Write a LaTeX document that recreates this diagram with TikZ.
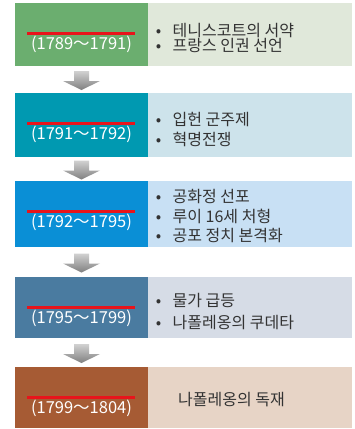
\documentclass[tikz,border=0pt]{standalone}
\usepackage{fontspec}
\setmainfont{Noto Sans CJK KR}
\definecolor{gA}{HTML}{6BAE6F}\definecolor{gB}{HTML}{E0E8DA}
\definecolor{tA}{HTML}{0099B1}\definecolor{tB}{HTML}{CDE3EB}
\definecolor{bA}{HTML}{0A8FD6}\definecolor{bB}{HTML}{C8E0F4}
\definecolor{sA}{HTML}{4A7BA0}\definecolor{sB}{HTML}{D6DCE6}
\definecolor{rA}{HTML}{A65B34}\definecolor{rB}{HTML}{E7D4C6}
\definecolor{redline}{HTML}{E8141B}
\definecolor{txt}{HTML}{333333}
\begin{document}
\begin{tikzpicture}[x=1pt,y=-1pt,
  leftbox/.style={inner sep=0pt,outer sep=0pt,minimum width=133pt,anchor=north west},
  rightbox/.style={inner sep=0pt,outer sep=0pt,minimum width=204pt,anchor=north west},
  yeartxt/.style={inner sep=0pt,anchor=base,text=white,font=\fontsize{16.5}{16.5}\selectfont},
  itemtxt/.style={inner sep=0pt,anchor=base west,text=txt,font=\fontsize{16}{16}\selectfont},
  redbar/.style={draw=redline,line width=3pt},
  arrowshade/.style={top color=black!18,bottom color=black!50}]
\useasboundingbox (0,0) rectangle (355,429);
% rows
\node[leftbox,fill=gA,minimum height=63pt] (L1) at (15,3) {};
\node[rightbox,fill=gB,minimum height=63pt] (R1) at (148,3) {};
\node[leftbox,fill=tA,minimum height=64pt] (L2) at (15,93) {};
\node[rightbox,fill=tB,minimum height=64pt] (R2) at (148,93) {};
\node[leftbox,fill=bA,minimum height=66pt] (L3) at (15,181) {};
\node[rightbox,fill=bB,minimum height=66pt] (R3) at (148,181) {};
\node[leftbox,fill=sA,minimum height=61pt] (L4) at (15,277) {};
\node[rightbox,fill=sB,minimum height=61pt] (R4) at (148,277) {};
\node[leftbox,fill=rA,minimum height=61pt] (L5) at (15,367) {};
\node[rightbox,fill=rB,minimum height=61pt] (R5) at (148,367) {};
% red bars and years
\foreach \t/\n/\yr in {3/1/(1789～1791),93/2/(1791～1792),181/3/(1792～1795),277/4/(1795～1799),367/5/(1799～1804)}{
  \coordinate (ra\n) at (27,\t+30);
  \coordinate (rb\n) at (135,\t+30);
  \draw[redbar] (ra\n) -- (rb\n);
  \node[yeartxt] (Y\n) at (81.5,\t+46.5) {\yr};
}
% arrows
\foreach \a/\b/\n in {L1/L2/1,L2/L3/2,L3/L4/3,L4/L5/4}{
  \path (\a.south) -- (\b.north) coordinate[pos=0.5] (m\n);
  \begin{scope}[shift={(m\n)}]
    \shade[arrowshade] (-7.5,-8.5) -- (7.5,-8.5) -- (7.5,1.5) -- (18.5,1.5) -- (0,10.5) -- (-18.5,1.5) -- (-7.5,1.5) -- cycle;
  \end{scope}
}
% items
\node[itemtxt] (i11) at (158.5,36) {\makebox[0pt]{•}\hspace{14pt}테니스코트의 서약};
\node[itemtxt] (i12) at (158.5,51) {\makebox[0pt]{•}\hspace{14pt}프랑스 인권 선언};
\node[itemtxt] (i21) at (158.5,125) {\makebox[0pt]{•}\hspace{14pt}입헌 군주제};
\node[itemtxt] (i22) at (158.5,145) {\makebox[0pt]{•}\hspace{14pt}혁명전쟁};
\node[itemtxt] (i31) at (158.5,202.5) {\makebox[0pt]{•}\hspace{14pt}공화정 선포};
\node[itemtxt] (i32) at (158.5,222) {\makebox[0pt]{•}\hspace{14pt}루이 16세 처형};
\node[itemtxt] (i33) at (158.5,241) {\makebox[0pt]{•}\hspace{14pt}공포 정치 본격화};
\node[itemtxt] (i41) at (158.5,306) {\makebox[0pt]{•}\hspace{14pt}물가 급등};
\node[itemtxt] (i42) at (158.5,328.5) {\makebox[0pt]{•}\hspace{14pt}나폴레옹의 쿠데타};
\node[itemtxt] (i51) at (178,405.5) {나폴레옹의 독재};
\end{tikzpicture}
\end{document}
